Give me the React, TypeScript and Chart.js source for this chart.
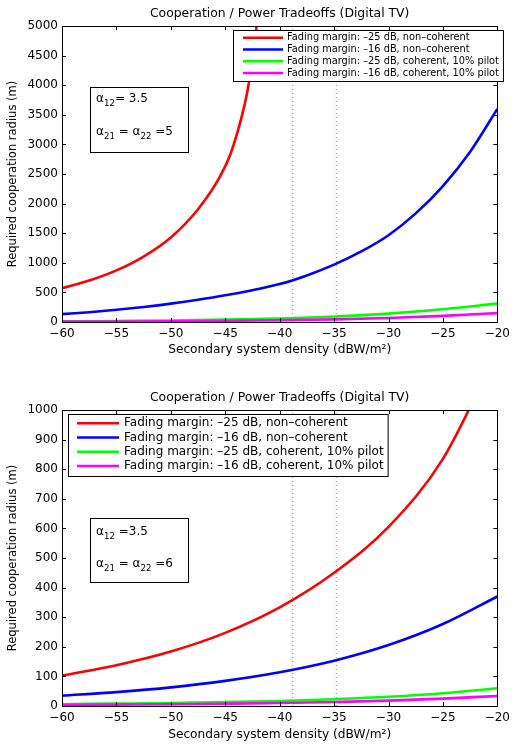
import React, { useEffect, useRef } from 'react';
import { Chart, registerables } from 'chart.js';

Chart.register(...registerables);

const FONT = '"DejaVu Sans", sans-serif';
const TITLE = 'Cooperation / Power Tradeoffs (Digital TV)';
const X_TITLE = 'Secondary system density (dBW/m²)';
const Y_TITLE = 'Required cooperation radius (m)';

const seriesLabels = [
  'Fading margin: –25 dB, non–coherent',
  'Fading margin: –16 dB, non–coherent',
  'Fading margin: –25 dB, coherent, 10% pilot',
  'Fading margin: –16 dB, coherent, 10% pilot',
];
const seriesColors = ['#ff0000', '#0000ff', '#00ff00', '#ff00ff'];

const xTickValues = [-60, -55, -50, -45, -40, -35, -30, -25, -20];
const densityGrid = [-60, -55, -50, -45, -40, -35, -30, -25, -20];
const markerX = [-38.8, -34.8];

// top chart (alpha21 = alpha22 = 5)
const topYTicks = [0, 500, 1000, 1500, 2000, 2500, 3000, 3500, 4000, 4500, 5000];
const topRedX = [-60, -57.5, -55, -52.5, -50, -47.5, -45.5, -44.5, -43.5, -43, -42.5, -42, -41.5];
const topRedY = [571, 700, 872, 1106, 1428, 1905, 2450, 2847, 3460, 3863, 4420, 5240, 6560];
const topBlueX = [-60, -57.5, -55, -52.5, -50, -47.5, -45, -42.5, -40, -37.5, -35, -32.5, -30, -27.5, -25, -22.5, -20];
const topBlueY = [133, 166, 206, 254, 310, 376, 451, 538, 640, 787, 969, 1192, 1466, 1835, 2297, 2876, 3600];
const topGreenY = [12, 18, 26, 40, 60, 92, 142, 215, 310];
const topMagentaY = [6, 9, 13, 19, 29, 44, 68, 103, 150];

// bottom chart (alpha21 = alpha22 = 6)
const botYTicks = [0, 100, 200, 300, 400, 500, 600, 700, 800, 900, 1000];
const botRedY = [103, 138, 184, 247, 333, 450, 605, 835, 1200];
const botBlueY = [35, 47, 63, 85, 114, 153, 206, 277, 370];
const botGreenY = [6, 8, 10, 13, 17, 23, 31, 43, 60];
const botMagentaY = [3.4, 4.5, 6, 7.8, 10, 13.5, 18, 25, 34];

type Part = { t: string; sub?: boolean };

interface PanelCfg {
  height: number;
  padTop: number;
  xAxisHeight: number;
  xTitlePad: number;
  yMax: number;
  yTicks: number[];
  series: { x: number[]; y: number[] }[];
  legend: { x: number; y: number; rowH: number; font: number; lineX0: number; lineX1: number; textX: number; h: number };
  note: { x: number; y: number; w: number; h: number; textX: number; lines: Part[][]; baselines: number[] };
}

function drawRich(ctx: CanvasRenderingContext2D, x: number, y: number, parts: Part[], size: number) {
  let cx = x;
  ctx.textAlign = 'left';
  ctx.textBaseline = 'alphabetic';
  for (const p of parts) {
    const fs = p.sub ? size * 0.72 : size;
    ctx.font = `${fs}px ${FONT}`;
    ctx.fillText(p.t, cx, p.sub ? y + size * 0.35 : y);
    cx += ctx.measureText(p.t).width;
  }
}

function makeOverlay(cfg: PanelCfg) {
  return {
    id: 'overlay',
    afterDatasetsDraw(chart: any) {
      const { ctx, chartArea: a, scales } = chart;
      const xs = scales.x;
      const ys = scales.y;
      ctx.save();
      ctx.strokeStyle = '#000';
      ctx.lineWidth = 1;
      ctx.setLineDash([]);
      ctx.beginPath();
      const L = 4;
      xTickValues.forEach((v) => {
        const p = Math.round(xs.getPixelForValue(v)) + 0.5;
        ctx.moveTo(p, a.bottom);
        ctx.lineTo(p, a.bottom - L);
        ctx.moveTo(p, a.top);
        ctx.lineTo(p, a.top + L);
      });
      cfg.yTicks.forEach((v) => {
        const p = Math.round(ys.getPixelForValue(v)) + 0.5;
        ctx.moveTo(a.left, p);
        ctx.lineTo(a.left + L, p);
        ctx.moveTo(a.right, p);
        ctx.lineTo(a.right - L, p);
      });
      ctx.stroke();
      ctx.strokeRect(Math.round(a.left) + 0.5, Math.round(a.top) + 0.5, Math.round(a.width), Math.round(a.height));

      // title
      ctx.fillStyle = '#000';
      ctx.font = `12.4px ${FONT}`;
      ctx.textAlign = 'center';
      ctx.textBaseline = 'alphabetic';
      ctx.fillText(TITLE, (a.left + a.right) / 2, a.top - 9.5);

      // annotation box
      const n = cfg.note;
      ctx.fillStyle = '#fff';
      ctx.fillRect(n.x, n.y, n.w, n.h);
      ctx.strokeRect(n.x + 0.5, n.y + 0.5, n.w, n.h);
      ctx.fillStyle = '#000';
      n.lines.forEach((ln, i) => drawRich(ctx, n.textX, n.baselines[i], ln, 12));

      // legend
      const lg = cfg.legend;
      ctx.font = `${lg.font}px ${FONT}`;
      let maxW = 0;
      seriesLabels.forEach((s) => (maxW = Math.max(maxW, ctx.measureText(s).width)));
      const w = lg.textX + maxW + 4 - lg.x;
      ctx.fillStyle = '#fff';
      ctx.fillRect(lg.x, lg.y, w, lg.h);
      ctx.strokeStyle = '#000';
      ctx.lineWidth = 1;
      ctx.strokeRect(lg.x + 0.5, lg.y + 0.5, w, lg.h);
      seriesLabels.forEach((s, i) => {
        const yy = lg.y + lg.rowH * (i + 0.5) + 2;
        ctx.strokeStyle = seriesColors[i];
        ctx.lineWidth = 2.5;
        ctx.beginPath();
        ctx.moveTo(lg.lineX0, yy);
        ctx.lineTo(lg.lineX1, yy);
        ctx.stroke();
        ctx.fillStyle = '#000';
        ctx.font = `${lg.font}px ${FONT}`;
        ctx.textAlign = 'left';
        ctx.textBaseline = 'middle';
        ctx.fillText(s, lg.textX, yy);
      });
      ctx.restore();
    },
  };
}

function Panel({ cfg }: { cfg: PanelCfg }) {
  const ref = useRef<HTMLCanvasElement | null>(null);
  useEffect(() => {
    if (!ref.current) return;
    const datasets: any[] = cfg.series.map((s, i) => ({
      label: seriesLabels[i],
      data: s.x.map((x, j) => ({ x, y: s.y[j] })),
      borderColor: seriesColors[i],
      borderWidth: 2.6,
      pointRadius: 0,
      fill: false,
      cubicInterpolationMode: 'monotone',
      order: 3 - i,
    }));
    markerX.forEach((mx, k) => {
      datasets.push({
        label: 'marker' + k,
        data: [
          { x: mx, y: 0 },
          { x: mx, y: cfg.yMax },
        ],
        borderColor: '#888888',
        borderWidth: 1,
        borderDash: [1, 3],
        pointRadius: 0,
        fill: false,
        order: 10 + k,
      });
    });
    const chart = new Chart(ref.current, {
      type: 'line',
      data: { datasets },
      options: {
        animation: false,
        responsive: false,
        devicePixelRatio: 1,
        layout: { padding: { left: 0, right: 6, top: cfg.padTop, bottom: 0 } },
        plugins: { legend: { display: false }, title: { display: false }, tooltip: { enabled: false } },
        scales: {
          x: {
            type: 'linear',
            min: -60,
            max: -20,
            grid: { display: false, drawTicks: false },
            border: { display: false },
            afterBuildTicks: (s: any) => {
              s.ticks = xTickValues.map((v) => ({ value: v }));
            },
            afterFit: (s: any) => {
              s.height = cfg.xAxisHeight;
            },
            ticks: {
              color: '#000',
              padding: 5,
              maxRotation: 0,
              autoSkip: false,
              font: { family: FONT, size: 12 },
              callback: (v: any) => String(v).replace('-', '−'),
            },
            title: {
              display: true,
              text: X_TITLE,
              color: '#000',
              font: { family: FONT, size: 12.2 },
              padding: { top: 0, bottom: cfg.xTitlePad },
            },
          },
          y: {
            type: 'linear',
            min: 0,
            max: cfg.yMax,
            grid: { display: false, drawTicks: false },
            border: { display: false },
            afterBuildTicks: (s: any) => {
              s.ticks = cfg.yTicks.map((v) => ({ value: v }));
            },
            afterFit: (s: any) => {
              s.width = 62;
            },
            ticks: {
              color: '#000',
              padding: 4,
              autoSkip: false,
              font: { family: FONT, size: 12 },
              callback: (v: any) => String(v),
            },
            title: {
              display: true,
              text: Y_TITLE,
              color: '#000',
              font: { family: FONT, size: 11.5 },
              padding: { top: 6, bottom: 0 },
            },
          },
        },
      } as any,
      plugins: [makeOverlay(cfg)],
    });
    return () => chart.destroy();
  }, [cfg]);
  return <canvas ref={ref} width={515} height={cfg.height} style={{ display: 'block', width: 515, height: cfg.height }} />;
}

const topCfg: PanelCfg = {
  height: 368,
  padTop: 26,
  xAxisHeight: 46,
  xTitlePad: 11,
  yMax: 5000,
  yTicks: topYTicks,
  series: [
    { x: topRedX, y: topRedY },
    { x: topBlueX, y: topBlueY },
    { x: densityGrid, y: topGreenY },
    { x: densityGrid, y: topMagentaY },
  ],
  legend: { x: 233, y: 30, rowH: 11.7, font: 9.8, lineX0: 243, lineX1: 283, textX: 287, h: 51 },
  note: {
    x: 90, y: 87, w: 98, h: 65, textX: 96,
    lines: [
      [{ t: 'α' }, { t: '12', sub: true }, { t: '= 3.5' }],
      [{ t: 'α' }, { t: '21', sub: true }, { t: ' = α' }, { t: '22', sub: true }, { t: ' =5' }],
    ],
    baselines: [102, 135],
  },
};

const botCfg: PanelCfg = {
  height: 377,
  padTop: 42,
  xAxisHeight: 39,
  xTitlePad: 3,
  yMax: 1000,
  yTicks: botYTicks,
  series: [
    { x: densityGrid, y: botRedY },
    { x: densityGrid, y: botBlueY },
    { x: densityGrid, y: botGreenY },
    { x: densityGrid, y: botMagentaY },
  ],
  legend: { x: 68, y: 46, rowH: 14.3, font: 12, lineX0: 77, lineX1: 119, textX: 124, h: 62 },
  note: {
    x: 90, y: 150, w: 98, h: 64, textX: 96,
    lines: [
      [{ t: 'α' }, { t: '12', sub: true }, { t: ' =3.5' }],
      [{ t: 'α' }, { t: '21', sub: true }, { t: ' = α' }, { t: '22', sub: true }, { t: ' =6' }],
    ],
    baselines: [167, 199],
  },
};

export default function App() {
  return (
    <div style={{ position: 'absolute', left: 0, top: 0, width: 515, height: 745, background: '#fff' }}>
      <Panel cfg={topCfg} />
      <Panel cfg={botCfg} />
    </div>
  );
}
